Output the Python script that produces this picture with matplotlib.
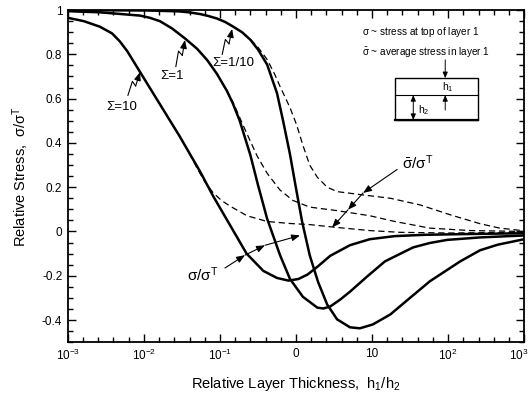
import numpy as np
import matplotlib
matplotlib.use('Agg')
from matplotlib import pyplot as plt
from matplotlib.patches import Rectangle
from matplotlib.ticker import FixedLocator, NullFormatter
from matplotlib.transforms import ScaledTranslation

plt.rcParams['font.family'] = ['Liberation Sans', 'DejaVu Sans']
plt.rcParams['mathtext.fontset'] = 'custom'
plt.rcParams['mathtext.rm'] = 'Liberation Sans'
plt.rcParams['mathtext.it'] = 'Liberation Sans:italic'
plt.rcParams['mathtext.default'] = 'regular'

# values: log10(h1/h2) and relative stress
# solid = sigma/sigma^T (top of layer 1), dashed = sigma_bar/sigma^T (average)
s10_logx = [-3.0, -2.79, -2.58, -2.42, -2.32, -2.22, -2.05, -1.79, -1.53, -1.26, -1.09, -0.87, -0.65,
            -0.43, -0.25, -0.1, 0.03, 0.15, 0.28, 0.45, 0.71, 0.97, 1.3, 1.7, 2.2, 2.6, 3.0]
s10_y = [0.965, 0.95, 0.925, 0.895, 0.86, 0.815, 0.72, 0.575, 0.43, 0.27, 0.16, 0.03, -0.1,
         -0.178, -0.21, -0.222, -0.215, -0.195, -0.16, -0.11, -0.062, -0.035, -0.021, -0.015,
         -0.012, -0.01, -0.008]

s1_logx = [-3.0, -2.58, -2.05, -1.92, -1.79, -1.63, -1.46, -1.3, -1.17, -1.04, -0.91, -0.83, -0.74,
           -0.6, -0.5, -0.38, -0.21, -0.08, 0.09, 0.28, 0.36, 0.45, 0.58, 0.71, 0.93, 1.17, 1.54,
           1.76, 1.99, 2.42, 3.0]
s1_y = [0.995, 0.99, 0.975, 0.965, 0.95, 0.917, 0.872, 0.825, 0.775, 0.712, 0.636, 0.578, 0.5,
        0.345, 0.21, 0.058, -0.107, -0.214, -0.295, -0.344, -0.348, -0.339, -0.308, -0.272,
        -0.205, -0.135, -0.072, -0.052, -0.038, -0.027, -0.018]

s01_logx = [-3.0, -1.92, -1.53, -1.39, -1.26, -1.15, -1.04, -0.93, -0.83, -0.71, -0.6, -0.5, -0.38,
            -0.25, -0.17, -0.08, 0.0, 0.08, 0.18, 0.29, 0.41, 0.54, 0.71, 0.84, 1.01, 1.24, 1.43,
            1.76, 2.16, 2.42, 2.65, 3.0]
s01_y = [1.0, 0.998, 0.994, 0.989, 0.982, 0.973, 0.962, 0.946, 0.926, 0.9, 0.866, 0.822, 0.754,
         0.625, 0.5, 0.35, 0.195, 0.045, -0.107, -0.228, -0.33, -0.397, -0.433, -0.4375, -0.42,
         -0.375, -0.32, -0.225, -0.135, -0.085, -0.06, -0.035]

d10_logx = [-3.0, -2.79, -2.58, -2.42, -2.32, -2.22, -2.05, -1.79, -1.53, -1.4, -1.3, -1.2, -1.09,
            -0.98, -0.87, -0.645, -0.38, -0.08, 0.18, 0.54, 0.97, 1.37, 2.03, 3.0]
d10_y = [0.965, 0.95, 0.925, 0.895, 0.86, 0.815, 0.72, 0.575, 0.43, 0.35, 0.285, 0.225, 0.175,
         0.14, 0.115, 0.071, 0.045, 0.036, 0.031, 0.018, 0.004, -0.004, -0.007, -0.004]

d1_logx = [-3.0, -2.58, -2.05, -1.92, -1.79, -1.63, -1.46, -1.3, -1.17, -1.04, -0.91, -0.83, -0.67,
           -0.51, -0.38, -0.21, -0.04, 0.18, 0.54, 0.97, 1.3, 1.76, 2.29, 3.0]
d1_y = [0.995, 0.99, 0.975, 0.965, 0.95, 0.917, 0.872, 0.825, 0.775, 0.712, 0.636, 0.585, 0.46,
        0.34, 0.263, 0.187, 0.14, 0.11, 0.094, 0.071, 0.045, 0.015, 0.004, 0.0]

d01_logx = [-3.0, -1.92, -1.53, -1.39, -1.26, -1.15, -1.04, -0.93, -0.83, -0.71, -0.6, -0.5, -0.38,
            -0.28, -0.21, -0.08, 0.01, 0.09, 0.18, 0.28, 0.41, 0.54, 0.88, 1.24, 1.63, 2.03, 2.42,
            2.68, 3.0]
d01_y = [1.0, 0.998, 0.994, 0.989, 0.982, 0.973, 0.962, 0.946, 0.926, 0.9, 0.868, 0.832, 0.777,
         0.71, 0.655, 0.56, 0.48, 0.39, 0.30, 0.245, 0.2, 0.18, 0.165, 0.15, 0.12, 0.075, 0.035,
         0.015, 0.003]

xtick_pos = [1e-3, 1e-2, 1e-1, 1, 10, 1e2, 1e3]
xtick_lab = ['$10^{-3}$', '$10^{-2}$', '$10^{-1}$', '0', '10', '$10^{2}$', '$10^{3}$']
ytick_pos = [-0.4, -0.2, 0, 0.2, 0.4, 0.6, 0.8, 1.0]
ytick_lab = ['-0.4', '-0.2', '0', '0.2', '0.4', '0.6', '0.8', '1']


def lx(v):
    return 10 ** np.asarray(v, dtype=float)


fig = plt.figure(figsize=(5.3, 4.03), dpi=100)
ax = fig.add_axes([0.128, 0.151, 0.861, 0.824])
ax.set_xscale('log')
ax.set_xlim(1e-3, 1e3)
ax.set_ylim(-0.5, 1.0)

solid = dict(color='black', lw=1.8, solid_capstyle='round', solid_joinstyle='round')
dashed = dict(color='black', lw=0.9, dashes=(5, 3))
for lgx, yy in [(d10_logx, d10_y), (d1_logx, d1_y), (d01_logx, d01_y)]:
    ax.plot(lx(lgx), yy, **dashed)
for lgx, yy in [(s10_logx, s10_y), (s1_logx, s1_y), (s01_logx, s01_y)]:
    ax.plot(lx(lgx), yy, **solid)

# ticks
ax.xaxis.set_major_locator(FixedLocator(xtick_pos))
ax.set_xticklabels(xtick_lab)
ax.xaxis.set_minor_locator(FixedLocator(lx(np.arange(-3, 3.01, 0.2))))
ax.xaxis.set_minor_formatter(NullFormatter())
ax.yaxis.set_major_locator(FixedLocator(ytick_pos))
ax.set_yticklabels(ytick_lab)
ax.yaxis.set_minor_locator(FixedLocator(np.arange(-0.5, 1.001, 0.05)))
ax.tick_params(which='both', direction='in', top=True, right=True, width=1.0, labelsize=8.5)
ax.tick_params(which='major', length=6, pad=4)
ax.tick_params(which='minor', length=3.5)
for sp in ax.spines.values():
    sp.set_linewidth(1.3)
# last x label sits on the figure edge, pull it in a little
last = ax.get_xticklabels()[-1]
last.set_transform(last.get_transform() + ScaledTranslation(-5 / 100, 0, fig.dpi_scale_trans))

ax.set_xlabel('Relative Layer Thickness,  h$_1$/h$_2$', fontsize=10.5, labelpad=9)
ax.set_ylabel(r'Relative Stress,  $\sigma/\sigma^{T}$', fontsize=10.5, labelpad=8)

head = dict(arrowstyle='-|>,head_length=0.5,head_width=0.2', color='black', lw=0.8,
            shrinkA=0, shrinkB=0)


def bolt_arrow(tail, tip):
    # arrow with a small lightning kink in the middle
    p0 = ax.transData.transform((lx(tail[0]), tail[1]))
    p1 = ax.transData.transform((lx(tip[0]), tip[1]))
    d = p1 - p0
    n = np.array([-d[1], d[0]]) / np.hypot(d[0], d[1])
    pts = np.array([p0, p0 + 0.55 * d + 2.5 * n, p0 + 0.45 * d - 2.5 * n])
    dp = ax.transData.inverted().transform(pts)
    ax.plot(dp[:, 0], dp[:, 1], color='black', lw=0.8)
    ax.annotate('', xy=(lx(tip[0]), tip[1]), xytext=(dp[-1, 0], dp[-1, 1]), arrowprops=head)


def chain_arrow(points):
    for a, b in zip(points[:-1], points[1:]):
        ax.annotate('', xy=(lx(b[0]), b[1]), xytext=(lx(a[0]), a[1]), arrowprops=head)


ax.text(lx(-2.29), 0.56, 'Σ=10', fontsize=9.5, ha='center', va='center')
bolt_arrow((-2.21, 0.615), (-2.05, 0.72))
ax.text(lx(-1.63), 0.70, 'Σ=1', fontsize=9.5, ha='center', va='center')
bolt_arrow((-1.58, 0.745), (-1.46, 0.865))
ax.text(lx(-0.83), 0.762, 'Σ=1/10', fontsize=9.5, ha='center', va='center')
bolt_arrow((-0.97, 0.80), (-0.84, 0.915))

ax.text(lx(-1.224), -0.196, r'$\sigma/\sigma^{T}$', fontsize=11, ha='center', va='center')
chain_arrow([(-0.934, -0.165), (-0.671, -0.107), (-0.408, -0.0625), (0.053, -0.018)])
ax.text(lx(1.605), 0.31, r'$\bar{\sigma}/\sigma^{T}$', fontsize=11, ha='center', va='center')
chain_arrow([(1.33, 0.28), (0.882, 0.174), (0.684, 0.098), (0.474, 0.018)])

# key and layer sketch, axes fraction
tr = ax.transAxes
ax.text(0.645, 0.934, r'$\sigma$ ~ stress at top of layer 1', transform=tr, fontsize=7.2, va='center')
ax.text(0.645, 0.873, r'$\bar{\sigma}$ ~ average stress in layer 1', transform=tr, fontsize=7.2,
        va='center')
ax.add_patch(Rectangle((0.717, 0.669), 0.182, 0.126, transform=tr, fill=False, lw=1.0, color='black'))
ax.plot([0.717, 0.899], [0.744, 0.744], transform=tr, color='black', lw=0.8)
ax.plot([0.717, 0.899], [0.669, 0.669], transform=tr, color='black', lw=1.6)
small = dict(arrowstyle='-|>,head_length=0.35,head_width=0.15', color='black', lw=0.7,
             shrinkA=0, shrinkB=0)
ax.annotate('', xy=(0.827, 0.795), xytext=(0.827, 0.85), xycoords=tr, textcoords=tr, arrowprops=small)
ax.annotate('', xy=(0.827, 0.744), xytext=(0.827, 0.699), xycoords=tr, textcoords=tr, arrowprops=small)
ax.annotate('', xy=(0.757, 0.744), xytext=(0.757, 0.669), xycoords=tr, textcoords=tr,
            arrowprops=dict(arrowstyle='<|-|>,head_length=0.35,head_width=0.15', color='black',
                            lw=0.7, shrinkA=0, shrinkB=0))
ax.text(0.833, 0.768, 'h$_1$', transform=tr, fontsize=7.5, ha='center', va='center')
ax.text(0.779, 0.699, 'h$_2$', transform=tr, fontsize=7.5, ha='center', va='center')

fig.savefig('out.png', dpi=100)
